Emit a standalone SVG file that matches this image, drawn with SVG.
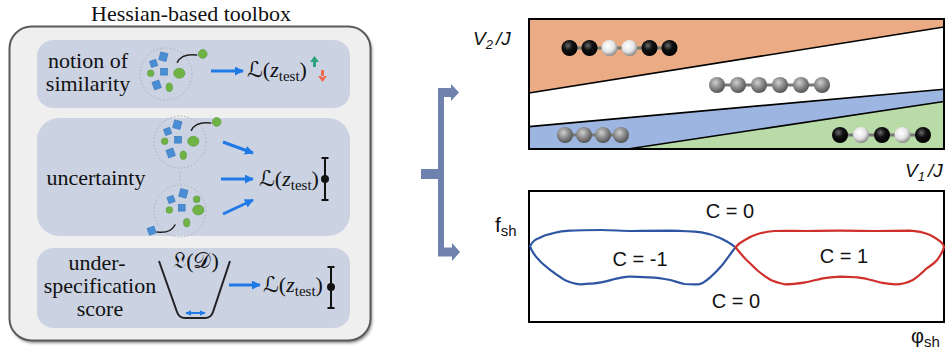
<svg xmlns="http://www.w3.org/2000/svg" xmlns:xlink="http://www.w3.org/1999/xlink" width="949" height="352" viewBox="0 0 949 352">
  <style>
    .ser { font-family: "Liberation Serif", "DejaVu Serif", serif; font-size: 22px; fill: #111; }
    .m { font-family: "Liberation Serif", "DejaVu Serif", "DejaVu Sans", serif; font-size: 22px; fill: #111; }
    .sans { font-family: "Liberation Sans", Arial, sans-serif; fill: #111; }
    .ax { font-family: "Liberation Sans", Arial, sans-serif; font-style: italic; font-size: 19px; fill: #111; }
    .panel { fill: #cbd3e3; }
    .dots { fill: none; stroke: #a9adb5; stroke-width: 1; stroke-dasharray: 1.5 2; }
    .sq { fill: #4a8fd6; stroke: #3473b8; stroke-width: 0.6; }
    .gr { fill: #6fb344; stroke: #58973a; stroke-width: 0.6; }
    .tail { fill: none; stroke: #222; stroke-width: 1.5; stroke-linecap: round; }
    .arr { stroke: #1f7ae6; stroke-width: 3; fill: none; marker-end: url(#ah); }
    .ebar { stroke: #111; stroke-width: 2; fill: none; }
    .chainbar { stroke: #777; stroke-width: 3; }
    .bound { stroke: #000; stroke-width: 1.6; fill: none; }
    .frame { fill: none; stroke: #000; stroke-width: 2; }
  </style>
  <defs>
    <marker id="ah" viewBox="0 0 10 10" refX="9" refY="5" markerUnits="userSpaceOnUse" markerWidth="9" markerHeight="9" orient="auto">
      <path d="M0,0 L10,5 L0,10 z" fill="#1f7ae6"/>
    </marker>
    <marker id="ah2" viewBox="0 0 10 10" refX="9" refY="5" markerUnits="userSpaceOnUse" markerWidth="6" markerHeight="6" orient="auto-start-reverse">
      <path d="M0,0 L10,5 L0,10 z" fill="#1f7ae6"/>
    </marker>
    <filter id="blur" x="-5%" y="-5%" width="110%" height="110%">
      <feGaussianBlur stdDeviation="1.5"/>
    </filter>
    <radialGradient id="gBlack" cx="0.4" cy="0.35" r="0.65">
      <stop offset="0" stop-color="#6a6a6a"/>
      <stop offset="0.45" stop-color="#111"/>
      <stop offset="1" stop-color="#000"/>
    </radialGradient>
    <radialGradient id="gWhite" cx="0.4" cy="0.35" r="0.7">
      <stop offset="0" stop-color="#ffffff"/>
      <stop offset="0.55" stop-color="#e4e4e4"/>
      <stop offset="1" stop-color="#7a7a7a"/>
    </radialGradient>
    <radialGradient id="gGray" cx="0.4" cy="0.35" r="0.7">
      <stop offset="0" stop-color="#cfcfcf"/>
      <stop offset="0.5" stop-color="#8a8a8a"/>
      <stop offset="1" stop-color="#4a4a4a"/>
    </radialGradient>
    <!-- a point cloud with one sample pulled out to the upper right -->
    <g id="cloud">
      <circle class="dots" cx="166" cy="74" r="26"/>
      <rect class="sq" x="-3" y="-3" width="6.5" height="6.5" transform="translate(153.3,63.3) rotate(-20)"/>
      <rect class="sq" x="-3.7" y="-4" width="7.5" height="8" transform="translate(163.3,56.7) rotate(15)"/>
      <rect class="sq" x="-3.4" y="-3.4" width="6.8" height="6.8" transform="translate(164,71.7)"/>
      <rect class="sq" x="-3.6" y="-4" width="7.2" height="8" transform="translate(156.7,85) rotate(-20)"/>
      <circle class="gr" cx="150.7" cy="73.3" r="3.3"/>
      <ellipse class="gr" cx="179.3" cy="73.3" rx="5.6" ry="5"/>
      <ellipse class="gr" cx="169.3" cy="87.3" rx="3.2" ry="4.2"/>
      <path class="tail" d="M177.3,62.3 Q182,53 196.7,55"/>
      <circle class="gr" cx="202.7" cy="54" r="4.4"/>
    </g>
  </defs>

  <!-- toolbox panel -->
  <g id="toolbox">
    <text class="ser" x="191" y="21" text-anchor="middle">Hessian-based toolbox</text>
    <rect x="11" y="29" width="361" height="314" rx="22" fill="#8a8a8a" filter="url(#blur)"/>
    <rect x="9.5" y="26.5" width="361" height="314" rx="22" fill="#efefef" stroke="#5a5a5a" stroke-width="2"/>
  </g>

  <g id="similarity">
    <rect class="panel" x="37" y="40" width="313" height="68" rx="16"/>
    <text class="ser" x="88" y="68" text-anchor="middle">notion of</text>
    <text class="ser" x="88" y="91" text-anchor="middle">similarity</text>
    <use xlink:href="#cloud"/>
    <line class="arr" x1="211" y1="71" x2="243" y2="71"/>
    <text class="m" x="247" y="77">ℒ(<tspan font-style="italic">z</tspan><tspan font-size="15" dy="4">test</tspan><tspan dy="-4">)</tspan></text>
    <path d="M313,61 h3 v6 h-3 z M310,62 L314.5,56 L319,62 z" fill="#2aa17a"/>
    <path d="M321,70 h3 v7 h-3 z M318,76 L322.5,82 L327,76 z" fill="#ee6b4f"/>
  </g>

  <g id="uncertainty">
    <rect class="panel" x="37" y="118" width="313" height="118" rx="22"/>
    <text class="ser" x="96" y="185" text-anchor="middle">uncertainty</text>
    <use xlink:href="#cloud" transform="translate(14,68)"/>
    <line class="dots" x1="180" y1="172" x2="180" y2="183" stroke-dasharray="1 2.5"/>
    <g>
      <circle class="dots" cx="180" cy="211" r="26"/>
      <rect class="sq" x="-3" y="-3" width="6.5" height="6.5" transform="translate(170.7,199.3) rotate(-20)"/>
      <rect class="sq" x="-3.7" y="-4" width="7.5" height="8" transform="translate(183.3,193.3) rotate(15)"/>
      <rect class="sq" x="-3.4" y="-3.4" width="6.8" height="6.8" transform="translate(181.7,207.7)"/>
      <circle class="gr" cx="196.7" cy="199.3" r="3.4"/>
      <circle class="gr" cx="169.3" cy="210" r="3.3"/>
      <ellipse class="gr" cx="198.3" cy="210" rx="5.6" ry="5"/>
      <ellipse class="gr" cx="186.7" cy="222.7" rx="3.2" ry="4.2"/>
      <path class="tail" d="M175,225 Q170,234 157,232"/>
      <rect class="sq" x="-3.6" y="-3.6" width="7.2" height="7.2" transform="translate(151.7,230.7) rotate(-20)"/>
    </g>
    <line class="arr" x1="223" y1="142" x2="253" y2="153"/>
    <line class="arr" x1="221" y1="179" x2="253" y2="179"/>
    <line class="arr" x1="223" y1="214" x2="253" y2="200"/>
    <text class="m" x="259" y="186">ℒ(<tspan font-style="italic">z</tspan><tspan font-size="15" dy="4">test</tspan><tspan dy="-4">)</tspan></text>
    <path class="ebar" d="M325,158 V200 M321.5,158 H328.5 M321.5,200 H328.5"/>
    <circle cx="325" cy="179" r="4" fill="#111"/>
  </g>

  <g id="underspecification">
    <rect class="panel" x="37" y="248" width="313" height="80" rx="16"/>
    <text class="ser" x="97" y="270" text-anchor="middle">under-</text>
    <text class="ser" x="100" y="293" text-anchor="middle">specification</text>
    <text class="ser" x="100" y="316" text-anchor="middle">score</text>
    <path d="M159,261 L177,312 Q179,318 185,318 H205 Q211,318 213,312 L230,261" fill="none" stroke="#222" stroke-width="2"/>
    <text class="m" x="196" y="268" text-anchor="middle" font-size="20">𝔏(𝒟)</text>
    <line x1="186" y1="313" x2="205" y2="313" stroke="#1f7ae6" stroke-width="2" marker-start="url(#ah2)" marker-end="url(#ah2)"/>
    <line class="arr" x1="229" y1="285" x2="260" y2="285"/>
    <text class="m" x="263" y="292">ℒ(<tspan font-style="italic">z</tspan><tspan font-size="15" dy="4">test</tspan><tspan dy="-4">)</tspan></text>
    <path class="ebar" d="M331,267 V308 M327.5,267 H334.5 M327.5,308 H334.5"/>
    <circle cx="331" cy="287" r="4" fill="#111"/>
  </g>

  <!-- bracket splitting into the two diagrams -->
  <g id="connectors">
    <path d="M438,88 H451 V84 L459,92.5 L451,101 V97 H444 V247.5 H452 V243 L460,252 L452,261 V256.5 H438 V179 H421 V169 H438 Z" fill="#6f81ad"/>
  </g>

  <!-- phase diagram V1/J vs V2/J -->
  <g id="phase-diagram">
    <polygon points="529,19 944,19 944,27 529,93" fill="#ebac85"/>
    <polygon points="529,126.6 944,89.2 944,101.5 627.6,149 529,149" fill="#9db6e1"/>
    <polygon points="627.6,149 944,101.5 944,149" fill="#b8dba8"/>
    <line class="bound" x1="529" y1="93" x2="944" y2="27"/>
    <line class="bound" x1="529" y1="126.6" x2="944" y2="89.2"/>
    <line class="bound" x1="627.6" y1="149" x2="944" y2="101.5"/>
    <rect class="frame" x="529" y="19" width="415" height="130"/>
    <!-- chain: black black white white black black -->
    <line class="chainbar" x1="569.5" y1="48" x2="669.5" y2="48"/>
    <circle cx="569.5" cy="48" r="8" fill="url(#gBlack)"/>
    <circle cx="589.5" cy="48" r="8" fill="url(#gBlack)"/>
    <circle cx="609.5" cy="48" r="8" fill="url(#gWhite)"/>
    <circle cx="629.5" cy="48" r="8" fill="url(#gWhite)"/>
    <circle cx="649.5" cy="48" r="8" fill="url(#gBlack)"/>
    <circle cx="669.5" cy="48" r="8" fill="url(#gBlack)"/>
    <!-- chain: six gray -->
    <line class="chainbar" x1="717" y1="85" x2="822" y2="85"/>
    <circle cx="717" cy="85" r="8" fill="url(#gGray)"/>
    <circle cx="738" cy="85" r="8" fill="url(#gGray)"/>
    <circle cx="759" cy="85" r="8" fill="url(#gGray)"/>
    <circle cx="780" cy="85" r="8" fill="url(#gGray)"/>
    <circle cx="801" cy="85" r="8" fill="url(#gGray)"/>
    <circle cx="822" cy="85" r="8" fill="url(#gGray)"/>
    <!-- chain: four gray -->
    <line class="chainbar" x1="565" y1="135" x2="621" y2="135"/>
    <circle cx="565" cy="135" r="8" fill="url(#gGray)"/>
    <circle cx="584" cy="135" r="8" fill="url(#gGray)"/>
    <circle cx="603" cy="135" r="8" fill="url(#gGray)"/>
    <circle cx="621" cy="135" r="8" fill="url(#gGray)"/>
    <!-- chain: black white black white black -->
    <line class="chainbar" x1="840" y1="135" x2="923" y2="135"/>
    <circle cx="840" cy="135" r="8" fill="url(#gBlack)"/>
    <circle cx="861" cy="135" r="8" fill="url(#gWhite)"/>
    <circle cx="882" cy="135" r="8" fill="url(#gBlack)"/>
    <circle cx="902.5" cy="135" r="8" fill="url(#gWhite)"/>
    <circle cx="923" cy="135" r="8" fill="url(#gBlack)"/>
    <text class="ax" x="473" y="45">V<tspan font-size="13" dy="4">2</tspan><tspan dx="3" dy="-4">/J</tspan></text>
    <text class="ax" x="905" y="177">V<tspan font-size="13" dy="4">1</tspan><tspan dx="3" dy="-4">/J</tspan></text>
  </g>

  <!-- Chern number diagram -->
  <g id="chern-diagram">
    <rect class="frame" x="529" y="191" width="415" height="131"/>
    <path fill="none" stroke="#2f56a3" stroke-width="2.2" stroke-linejoin="round"
      d="M530,246 C533,241 536,239 538.7,238.3 C544,235 548,234 552.6,233.3 C558,232 564,231 569.9,230.7 C580,230 590,230 601.1,230 C612,230 622,231 632.2,231 C645,231 658,230.7 670.3,230.7 C682,231 692,231.5 701.5,232.3 C710,233.5 716,236 720.6,238.3 C725,240.5 728,242 730.9,244 C733,245.5 734.5,246.5 735.5,247.3
         C731,253 727,259 722.3,265 C718,270 714,274 710.2,277.3 C706,281 702,284.3 698,284.3 C693,284.5 688,284.3 684.2,284 C679,283 675,281 670.3,280 C663,278.5 656,277.5 649.5,277.3 C642,277 635,276.5 628.8,276.7 C623,277 619,278 614.9,279 C607,281 600,283 594.1,283.3 C589,283.7 584,284.3 580.3,284.3 C575,284 569,282 564.7,280 C560,277 556,274.5 552.6,271.7 C548,268 545,266 542.2,263.3 C539,260 535,256 533.5,253.3 C531.5,250 530.5,248 530,246 Z"/>
    <path fill="none" stroke="#d0302c" stroke-width="2.2" stroke-linejoin="round"
      d="M735.5,247.3 C738,244 741,242 744.8,240 C749,237.5 753,235.5 756.9,234.3 C762,232.5 768,231.5 774.3,231 C785,230.7 795,231 805.4,231 C817,231 829,230.7 840.1,230.7 C852,230.7 863,231 874.7,231 C886,231 898,230.7 909.3,230.7 C917,231 924,232.5 930.1,235 C934,237 938,239.5 940.5,241.7 C942.5,243.5 943.5,245 944,246.7
         C943,252 940,256 937.1,260 C934,264 930,266 926.7,268.3 C922,273 918,277 912.8,280 C907,283 901,284.3 895.5,284.3 C890,284.3 886,283.5 881.6,282.7 C874,281 866,278 857.4,277.3 C851,277 845,276.7 840.1,276.7 C834,277 828,277.5 822.7,278.3 C817,279.5 811,281.5 805.4,282.3 C798,283.5 791,284.3 784.6,284.3 C779,283 775,282 770.8,280 C766,277 761,273.5 756.9,270 C752,265 748,261.5 744.8,258.3 C741,254 738,250.5 735.5,247.3 Z"/>
    <text class="sans" x="730" y="218" font-size="20" text-anchor="middle">C = 0</text>
    <text class="sans" x="640" y="266" font-size="20" text-anchor="middle">C = -1</text>
    <text class="sans" x="844" y="263" font-size="20" text-anchor="middle">C = 1</text>
    <text class="sans" x="736" y="308" font-size="20" text-anchor="middle">C = 0</text>
    <text class="sans" x="495" y="232" font-size="21">f<tspan font-size="15" dy="4">sh</tspan></text>
    <text class="sans" x="911" y="343" font-size="20">φ<tspan font-size="15" dy="4">sh</tspan></text>
  </g>
</svg>
